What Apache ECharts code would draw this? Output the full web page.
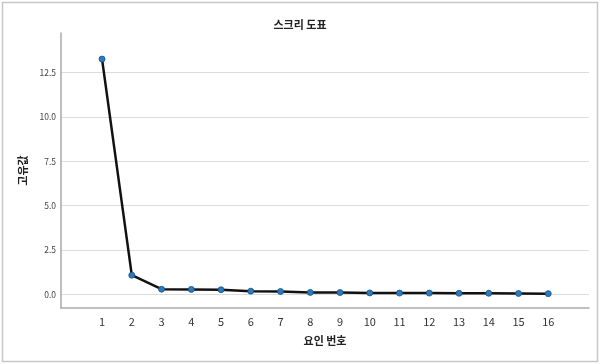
<!DOCTYPE html>
<html><head><meta charset="utf-8">
<script src="https://cdn.jsdelivr.net/npm/echarts@6/dist/echarts.min.js"></script>
<style>html,body{margin:0;padding:0;background:#fff}#c{width:600px;height:364px}</style>
</head><body><div id="c"></div>
<script>
const factorNumbers = [1,2,3,4,5,6,7,8,9,10,11,12,13,14,15,16];
const eigenvalues = [13.27,1.08,0.29,0.28,0.26,0.18,0.16,0.11,0.10,0.08,0.07,0.07,0.06,0.06,0.05,0.04];
const yTicks = [0, 2.5, 5, 7.5, 10, 12.5];
const titleText = '스크리 도표';
const xName = '요인 번호';
const yName = '고유값';

const font = '"Noto Sans CJK KR", "Noto Sans", sans-serif';
const chart = echarts.init(document.getElementById('c'), null, {renderer:'canvas'});
chart.setOption({
  animation:false,
  backgroundColor:'#fff',
  title:{text:titleText, left:'center', top:14, textStyle:{fontFamily:font, fontSize:11, fontWeight:'bold', color:'#222'}},
  graphic:[{type:'rect', shape:{x:2.5,y:2.5,width:595,height:359}, style:{fill:'none', stroke:'#c8c8c8', lineWidth:1.5}, silent:true}],
  grid:{left:61, right:11, top:33, bottom:56, containLabel:false},
  xAxis:{type:'value', min:-0.38, max:17.37,
    name:xName, nameLocation:'middle', nameGap:27,
    nameTextStyle:{fontFamily:font, fontSize:11, fontWeight:'bold', color:'#222'},
    axisLine:{show:true, onZero:false, lineStyle:{color:'#aaaaaa', width:1.5}},
    axisTick:{show:false, customValues:factorNumbers},
    splitLine:{show:false},
    axisLabel:{customValues:factorNumbers, fontFamily:font, fontSize:11, color:'#333', margin:8, formatter:v=>String(v)}
  },
  yAxis:{type:'value', min:-0.77, max:14.74,
    name:yName, nameLocation:'middle', nameGap:27, nameRotate:90,
    nameTextStyle:{fontFamily:font, fontSize:11, fontWeight:'bold', color:'#222'},
    axisLine:{show:true, onZero:false, lineStyle:{color:'#aaaaaa', width:1.5}},
    axisTick:{show:false, customValues:yTicks},
    splitLine:{show:true, lineStyle:{color:'#dcdcdc', width:1}},
    axisLabel:{customValues:yTicks, fontFamily:font, fontSize:8.5, color:'#444', margin:5, formatter:v=>v.toFixed(1)}
  },
  series:[{type:'line', data:factorNumbers.map((x,i)=>[x, eigenvalues[i]]),
    lineStyle:{color:'#111', width:2.5},
    symbol:'circle', symbolSize:6,
    itemStyle:{color:'#2b7bbf', borderColor:'#1a4f80', borderWidth:0.8},
    z:3
  }]
});
</script></body></html>
